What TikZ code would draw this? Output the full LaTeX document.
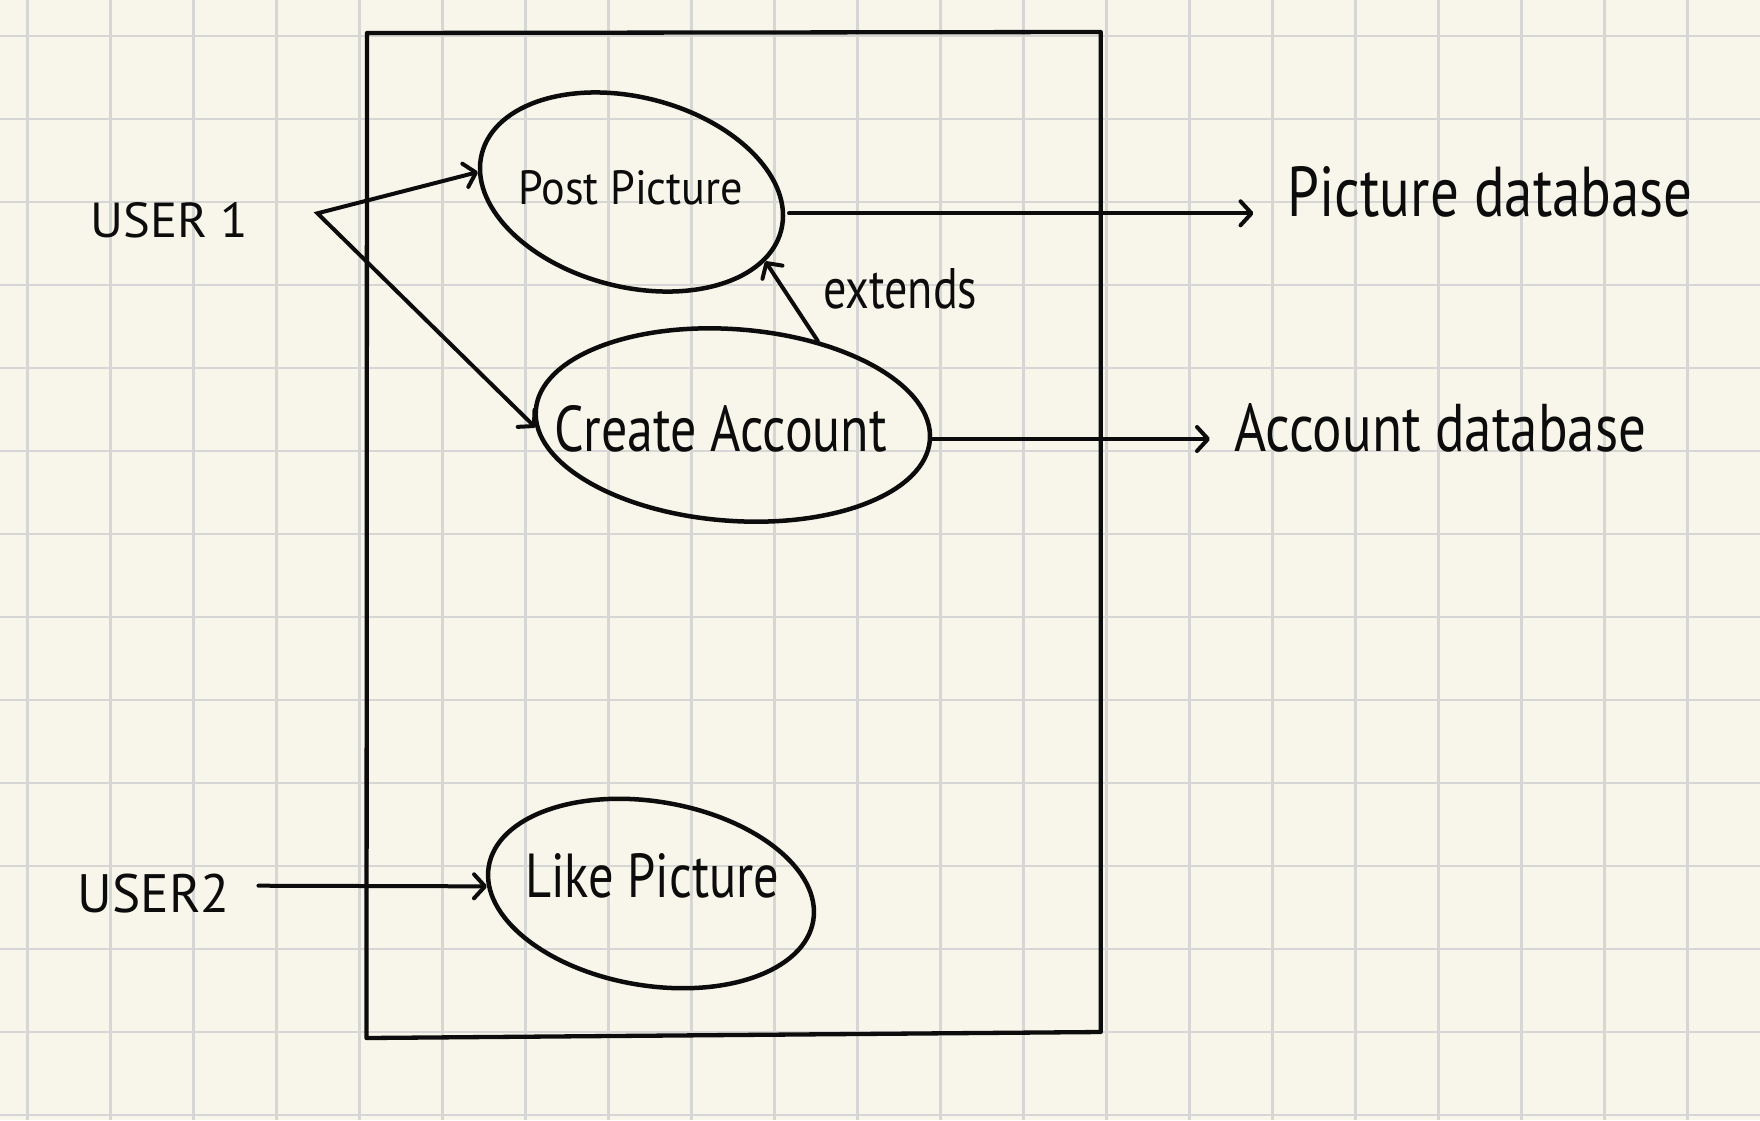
\documentclass[tikz,border=0pt]{standalone}
\usepackage{fontspec}
\setmainfont{PT Sans}
\usepackage{graphicx}
\usetikzlibrary{shapes.geometric,arrows.meta,calc}

\definecolor{paperbg}{HTML}{F8F6EA}
\definecolor{gridgray}{HTML}{D6D6D4}
\definecolor{ink}{HTML}{0C0C0C}

\tikzset{
  usecase/.style={draw=ink, ellipse, line width=4.5pt, inner sep=0pt},
  lbl/.style={anchor=base west, inner sep=0pt, text=ink},
  conn/.style={draw=ink, line width=4pt, line cap=round},
  arr/.style={conn, -{Straight Barb[length=11pt,width=24pt,round]}},
  twoarr/.style={conn, line join=miter,
    {Straight Barb[length=11pt,width=24pt,round]}-{Straight Barb[length=11pt,width=24pt,round]}},
  gridline/.style={draw=gridgray, line width=2.6pt},
}
% hand-lettered label squeezed into a given width and height
\newcommand{\hand}[3]{\resizebox{#1pt}{#2pt}{#3}}

\begin{document}
\begin{tikzpicture}[x=1pt,y=-1pt]
  \useasboundingbox[fill=paperbg] (0,0) rectangle (1760,1120);

  % squared paper
  \foreach \i in {0,...,20}
    \draw[gridline] ({27.5+83*\i},0) -- ({27.5+83*\i},1120);
  \foreach \j in {0,...,13}
    \draw[gridline] (0,{36+83*\j}) -- (1760,{36+83*\j});

  % system boundary
  \draw[ink, line width=4.3pt, line join=round]
    (367,33) -- (1100.7,32) -- (1100.7,1032) -- (366.5,1038) -- cycle;

  % use cases
  \node[usecase, minimum width=309pt, minimum height=189.6pt, rotate=-14.4] (post) at (631.5,192) {};
  \node[usecase, minimum width=395.2pt, minimum height=191.6pt, rotate=-4.3] (create) at (732.85,425) {};
  \node[usecase, minimum width=329pt, minimum height=184pt, rotate=-9.5] (like) at (651,893.5) {};

  % labels
  \node[lbl] (user1)     at (90,237)       {\hand{158}{35}{USER 1}};
  \node[lbl] (user2)     at (77.5,912)     {\hand{152}{38.5}{USER2}};
  \node[lbl] (postlbl)   at (518,204)      {\hand{225}{34}{Post Picture}};
  \node[lbl] (createlbl) at (554.6,451.7)  {\hand{332}{46}{Create Account}};
  \node[lbl] (likelbl)   at (525,897)      {\hand{254}{44}{Like Picture}};
  \node[lbl] (extlbl)    at (823,308.3)    {\hand{154}{40}{extends}};
  \node[lbl] (picdb)     at (1287.5,216.7) {\hand{405}{50}{Picture database}};
  \node[lbl] (acctdb)    at (1234,451.7)   {\hand{412}{48}{Account database}};

  % connectors
  \coordinate (fork) at ($(user1.base east)+(69,-23.7)$);
  \draw[twoarr] (post.187) -- (fork) -- (create.185);
  \draw[arr] (create.49) -- (post.-13);
  \draw[arr] ($(post.center)+(157.5,21.3)$) -- ($(picdb.base west)+(-34,-3.4)$);
  \draw[arr] ($(create.center)+(197.2,14)$) -- ($(acctdb.base west)+(-24,-12.7)$);
  \draw[arr] ($(user2.base east)+(28.5,-26.3)$) -- (like.187);
\end{tikzpicture}
\end{document}
